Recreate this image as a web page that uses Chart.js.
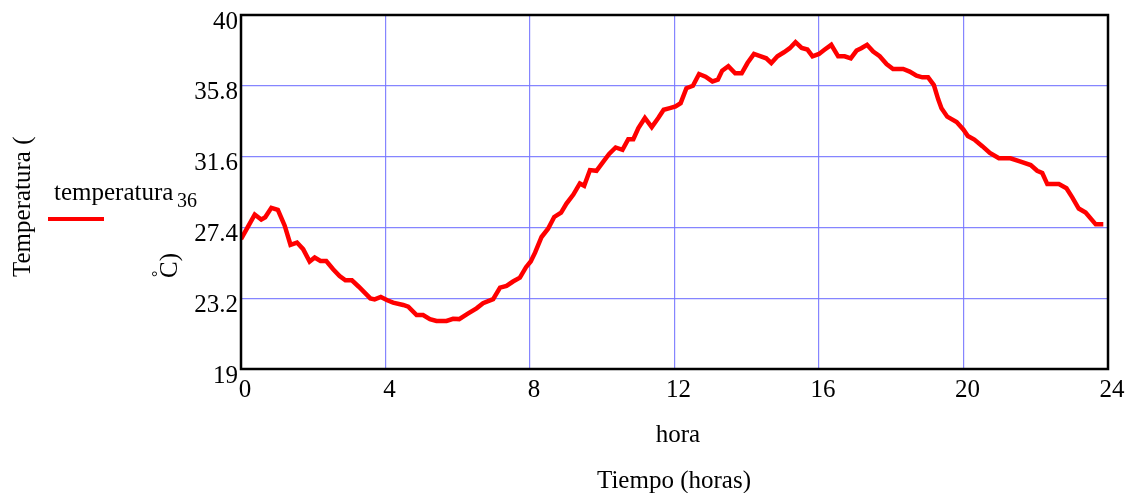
<!DOCTYPE html>
<html>
<head>
<meta charset="utf-8">
<script src="https://cdn.jsdelivr.net/npm/chart.js@4"></script>
<style>
  html, body { margin: 0; padding: 0; background: #fff; }
  canvas { display: block; }
</style>
</head>
<body>
<canvas id="stage" width="1134" height="493"></canvas>
<script>
// hora del día
const hours = [
  0.00, 0.38, 0.56, 0.67, 0.84, 1.02, 1.21, 1.37, 1.55, 1.72, 1.90, 2.04, 2.20, 2.36, 2.55, 2.73, 2.89, 3.07,
  3.26, 3.43, 3.58, 3.70, 3.87, 4.05, 4.21, 4.49, 4.63, 4.86, 5.04, 5.23, 5.41, 5.69, 5.87, 6.04, 6.29, 6.52,
  6.70, 6.98, 7.17, 7.35, 7.53, 7.72, 7.89, 8.02, 8.14, 8.32, 8.50, 8.67, 8.86, 9.01, 9.20, 9.38, 9.50, 9.66,
  9.84, 10.03, 10.19, 10.37, 10.56, 10.72, 10.86, 11.00, 11.18, 11.37, 11.55, 11.70, 11.87, 12.03, 12.17, 12.33,
  12.51, 12.68, 12.86, 13.05, 13.20, 13.32, 13.49, 13.68, 13.86, 14.02, 14.20, 14.39, 14.54, 14.68, 14.85, 15.03,
  15.19, 15.35, 15.52, 15.68, 15.82, 16.00, 16.16, 16.34, 16.53, 16.71, 16.88, 17.04, 17.17, 17.33, 17.50, 17.68,
  17.87, 18.05, 18.33, 18.51, 18.70, 18.86, 19.02, 19.18, 19.30, 19.39, 19.55, 19.81, 20.00, 20.12, 20.30, 20.52,
  20.73, 20.98, 21.30, 21.58, 21.86, 22.04, 22.18, 22.32, 22.64, 22.85, 23.01, 23.19, 23.38, 23.66, 23.87
];

// temperatura_36 (°C)
const temperatura36 = [
  26.71, 28.16, 27.86, 28.00, 28.56, 28.44, 27.50, 26.37, 26.50, 26.11, 25.37, 25.61, 25.41, 25.41, 24.92, 24.52, 24.26, 24.26,
  23.88, 23.52, 23.19, 23.13, 23.27, 23.08, 22.94, 22.80, 22.70, 22.20, 22.20, 21.96, 21.85, 21.85, 21.98, 21.96, 22.30, 22.60,
  22.90, 23.14, 23.83, 23.93, 24.19, 24.42, 25.04, 25.38, 25.90, 26.83, 27.32, 28.02, 28.28, 28.81, 29.35, 30.01, 29.87, 30.80,
  30.76, 31.30, 31.76, 32.14, 32.00, 32.63, 32.63, 33.29, 33.89, 33.35, 33.89, 34.38, 34.48, 34.58, 34.77, 35.66,
  35.80, 36.50, 36.34, 36.06, 36.16, 36.70, 36.96, 36.54, 36.54, 37.15, 37.69, 37.55, 37.43, 37.15, 37.55, 37.79,
  38.03, 38.39, 38.05, 37.95, 37.55, 37.69, 37.95, 38.23, 37.55, 37.55, 37.43, 37.89, 38.03, 38.23, 37.83, 37.55,
  37.09, 36.80, 36.80, 36.64, 36.40, 36.30, 36.30, 35.84, 35.00, 34.47, 33.97, 33.65, 33.20, 32.82, 32.61, 32.22,
  31.82, 31.50, 31.50, 31.30, 31.10, 30.76, 30.63, 29.97, 29.97, 29.72, 29.18, 28.52, 28.28, 27.58, 27.58
];

const xTicks = [0, 4, 8, 12, 16, 20, 24];
const yTicks = [19, 23.2, 27.4, 31.6, 35.8, 40];

const serif = "'Liberation Serif', 'Times New Roman', serif";

// marco, leyenda y rótulos de los ejes
const decorations = {
  id: 'decorations',
  afterDraw(chart) {
    const ctx = chart.ctx;
    const a = chart.chartArea;
    ctx.save();

    ctx.strokeStyle = '#000';
    ctx.lineWidth = 2.5;
    ctx.strokeRect(a.left, a.top, a.right - a.left, a.bottom - a.top);

    ctx.fillStyle = '#000';
    ctx.textBaseline = 'alphabetic';

    // leyenda
    ctx.font = '25px ' + serif;
    ctx.textAlign = 'left';
    ctx.fillText('temperatura', 54, 200);
    ctx.font = '20px ' + serif;
    ctx.fillText('36', 177, 207);
    ctx.strokeStyle = 'red';
    ctx.lineWidth = 4;
    ctx.beginPath();
    ctx.moveTo(48, 219);
    ctx.lineTo(104, 219);
    ctx.stroke();

    // títulos del eje x
    ctx.font = '25px ' + serif;
    ctx.textAlign = 'center';
    ctx.fillText('hora', 678, 442);
    ctx.fillText('Tiempo (horas)', 674, 488);

    // título del eje y (en dos trozos)
    ctx.textAlign = 'left';
    ctx.save();
    ctx.translate(30, 277);
    ctx.rotate(-Math.PI / 2);
    ctx.fillText('Temperatura (', 0, 0);
    ctx.restore();

    ctx.save();
    ctx.translate(177, 278);
    ctx.rotate(-Math.PI / 2);
    ctx.fillText('C)', 0, 0);
    ctx.font = '16px ' + serif;
    ctx.fillText('°', 1, -14);
    ctx.restore();

    ctx.restore();
  }
};

new Chart(document.getElementById('stage'), {
  type: 'line',
  data: {
    datasets: [{
      label: 'temperatura36',
      data: hours.map((h, i) => ({ x: h, y: temperatura36[i] })),
      borderColor: 'rgb(255, 0, 0)',
      borderWidth: 4.5,
      pointRadius: 0,
      tension: 0,
      fill: false
    }]
  },
  options: {
    responsive: false,
    animation: false,
    layout: { padding: { top: 15, right: 26, left: 0, bottom: 0 } },
    plugins: {
      legend: { display: false },
      tooltip: { enabled: false }
    },
    scales: {
      x: {
        type: 'linear',
        min: 0,
        max: 24,
        afterBuildTicks: s => { s.ticks = xTicks.map(v => ({ value: v })); },
        afterFit: s => { s.height = 124; s.paddingLeft = 0; s.paddingRight = 0; },
        grid: { color: 'rgba(120, 120, 255, 0.9)', lineWidth: 1.2, drawTicks: false },
        border: { display: false },
        ticks: {
          color: '#000',
          font: { family: serif, size: 25 },
          padding: 6,
          labelOffset: 4,
          maxRotation: 0,
          autoSkip: false
        }
      },
      y: {
        min: 19,
        max: 40,
        afterBuildTicks: s => { s.ticks = yTicks.map(v => ({ value: v })); },
        afterFit: s => { s.width = 241; s.paddingTop = 0; s.paddingBottom = 0; },
        grid: { color: 'rgba(120, 120, 255, 0.9)', lineWidth: 1.2, drawTicks: false },
        border: { display: false },
        ticks: {
          color: '#000',
          font: { family: serif, size: 25 },
          padding: 3,
          labelOffset: 7,
          autoSkip: false,
          callback: v => String(v)
        }
      }
    }
  },
  plugins: [decorations]
});
</script>
</body>
</html>
